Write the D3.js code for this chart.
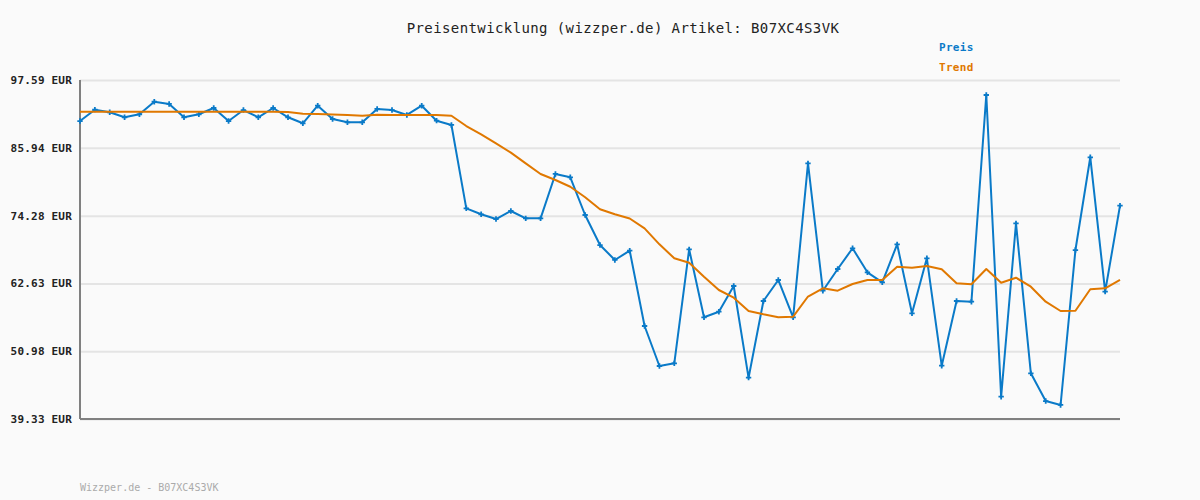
<!DOCTYPE html>
<html>
<head>
<meta charset="utf-8">
<script src="https://cdn.jsdelivr.net/npm/d3@7"></script>
<style>
  body { margin: 0; background: #fafafa; }
  svg { display: block; }
</style>
</head>
<body>
<div id="chart"></div>
<script>
// price per step (EUR)
const preis = [90.54, 92.49, 92.04, 91.18, 91.70, 93.86, 93.47, 91.18, 91.70, 92.78,
  90.54, 92.43, 91.18, 92.78, 91.18, 90.15, 93.17, 90.89, 90.32, 90.32,
  92.61, 92.43, 91.58, 93.17, 90.60, 89.86, 75.54, 74.51, 73.70, 75.08,
  73.82, 73.82, 81.44, 80.87, 74.39, 69.23, 66.66, 68.25, 55.31, 48.44,
  48.90, 68.49, 56.81, 57.77, 62.19, 46.43, 59.61, 63.22, 56.81, 83.27,
  61.38, 65.11, 68.67, 64.54, 62.82, 69.35, 57.49, 66.95, 48.49, 59.61,
  59.49, 95.01, 43.16, 72.96, 47.18, 42.42, 41.74, 68.37, 84.31, 61.21,
  75.99]

const trend = [92.14, 92.14, 92.14, 92.14, 92.14, 92.14, 92.14, 92.14, 92.14, 92.14,
  92.14, 92.14, 92.14, 92.14, 92.09, 91.80, 91.75, 91.66, 91.58, 91.45,
  91.63, 91.58, 91.58, 91.58, 91.58, 91.45, 89.68, 88.26, 86.71, 85.10,
  83.27, 81.44, 80.40, 79.25, 77.43, 75.37, 74.51, 73.79, 72.10, 69.35,
  66.95, 66.19, 63.79, 61.50, 60.18, 57.89, 57.32, 56.81, 56.91, 60.38,
  61.79, 61.38, 62.53, 63.22, 63.22, 65.50, 65.33, 65.62, 65.06, 62.65,
  62.48, 65.11, 62.75, 63.61, 62.07, 59.49, 57.89, 57.94, 61.62, 61.79,
  63.22]

const yTicks = [39.33, 50.98, 62.63, 74.28, 85.94, 97.59]

const title = "Preisentwicklung (wizzper.de) Artikel: B07XC4S3VK"
const footer = "Wizzper.de - B07XC4S3VK"

const margin = {top: 80, right: 80, bottom: 81, left: 80},
    width = 1200 - margin.left - margin.right,
    height = 500 - margin.top - margin.bottom

const blue = "#0a7ac8", orange = "#e07800"
const mono = "'DejaVu Sans Mono', 'Liberation Mono', monospace"

const root = d3.select("#chart")
  .append("svg")
    .attr("width", 1200)
    .attr("height", 500)
    .style("background", "#fafafa")

const svg = root.append("g")
    .attr("transform", `translate(${margin.left}, ${margin.top})`)

const xScale = d3.scaleLinear().domain([0, preis.length - 1]).range([0, width])
const yScale = d3.scaleLinear().domain([39.33, 97.59]).range([height, 0])

// grid
svg.append("g")
  .call(d3.axisLeft(yScale).tickValues(yTicks).tickSize(-width).tickFormat(""))
  .call(g => g.select(".domain").remove())
  .selectAll("line")
    .attr("stroke", "#e4e4e4")
    .attr("stroke-width", 2)

// y axis labels
svg.append("g")
  .call(d3.axisLeft(yScale).tickValues(yTicks).tickSize(0).tickPadding(8)
    .tickFormat(d => d3.format(".2f")(d) + " EUR"))
  .call(g => g.select(".domain").remove())
  .selectAll("text")
    .attr("font-family", mono)
    .attr("font-weight", "bold")
    .attr("font-size", 11)
    .attr("letter-spacing", 0.2)
    .attr("fill", "#222")

// axis lines
svg.append("line")
  .attr("x1", 0).attr("x2", 0).attr("y1", 0).attr("y2", height)
  .attr("stroke", "#808080").attr("stroke-width", 2)
svg.append("line")
  .attr("x1", 0).attr("x2", width).attr("y1", height).attr("y2", height)
  .attr("stroke", "#808080").attr("stroke-width", 2)

const line = d3.line()
  .x((d, i) => xScale(i))
  .y(d => yScale(d))

svg.append("path")
  .datum(preis)
  .attr("fill", "none")
  .attr("stroke", blue)
  .attr("stroke-width", 2)
  .attr("stroke-linejoin", "round")
  .attr("d", line)

svg.selectAll(".marker")
  .data(preis)
  .enter()
  .append("path")
    .attr("class", "marker")
    .attr("d", d3.symbol().type(d3.symbolCross).size(16))
    .attr("transform", (d, i) => `translate(${xScale(i)}, ${yScale(d)})`)
    .attr("fill", blue)

svg.append("path")
  .datum(trend)
  .attr("fill", "none")
  .attr("stroke", orange)
  .attr("stroke-width", 2)
  .attr("stroke-linejoin", "round")
  .attr("d", line)

// title
root.append("text")
  .attr("x", 623)
  .attr("y", 33)
  .attr("text-anchor", "middle")
  .attr("font-family", mono)
  .attr("font-size", 14)
  .attr("letter-spacing", 0.4)
  .attr("fill", "#222")
  .text(title)

// legend
const legend = [{name: "Preis", color: blue}, {name: "Trend", color: orange}]
root.selectAll(".legend")
  .data(legend)
  .enter()
  .append("text")
    .attr("class", "legend")
    .attr("x", 939)
    .attr("y", (d, i) => 51 + i * 20)
    .attr("font-family", mono)
    .attr("font-weight", "bold")
    .attr("font-size", 11)
    .attr("letter-spacing", 0.3)
    .attr("fill", d => d.color)
    .text(d => d.name)

// footer
root.append("text")
  .attr("x", 80)
  .attr("y", 491)
  .attr("font-family", mono)
  .attr("font-size", 10)
  .attr("fill", "#aaa")
  .text(footer)
</script>
</body>
</html>
